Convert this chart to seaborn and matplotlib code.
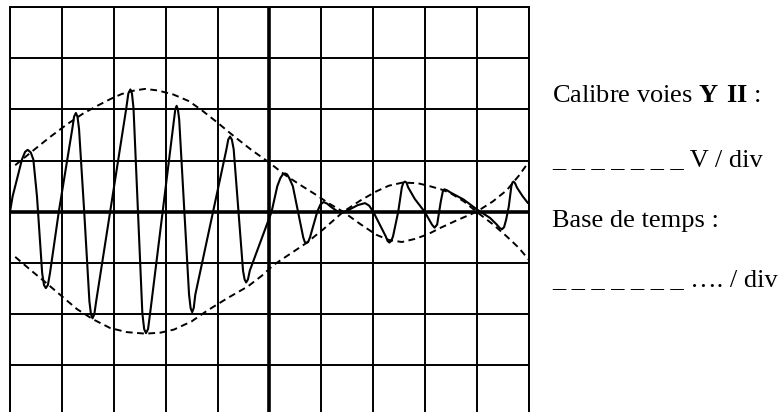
import matplotlib
matplotlib.use("Agg")
import matplotlib.pyplot as plt
import seaborn as sns

# ---- data (in screen divisions) ----
sig_x = [0.00, 0.05, 0.23, 0.29, 0.34, 0.40, 0.45, 0.52,
         0.54, 0.62, 0.655, 0.69, 0.73, 0.77, 0.94,
         1.20, 1.235, 1.27, 1.30, 1.33, 1.43,
         1.53, 1.56, 1.59, 1.625, 1.66,
         2.24, 2.28, 2.32, 2.35, 2.38,
         2.55, 2.585, 2.62, 2.66, 2.70,
         3.16, 3.185, 3.21, 3.235, 3.26,
         3.45, 3.48, 3.51, 3.54, 3.57,
         4.17, 4.205, 4.24, 4.275, 4.31,
         4.49, 4.52, 4.55, 4.585, 4.62,
         5.04, 5.15, 5.21, 5.255, 5.30, 5.34, 5.38, 5.45, 5.55,
         5.65, 5.68, 5.71, 5.745, 5.78, 5.92,
         5.98, 6.04, 6.11, 6.18, 6.32,
         6.42, 6.55, 6.70, 6.84, 6.92, 7.00,
         7.24, 7.275, 7.31, 7.345, 7.38, 7.48,
         7.55, 7.58, 7.61, 7.64, 7.67, 7.80, 7.99,
         8.13, 8.18, 8.23, 8.30, 8.34, 8.37, 8.42, 8.50, 8.74, 8.99,
         9.25, 9.37, 9.44, 9.48, 9.52, 9.56, 9.61, 9.66, 9.68, 9.70,
         9.73, 9.77, 9.88, 9.98]
sig_y = [0.00, 0.30, 1.02, 1.17, 1.21, 1.16, 1.02, 0.30,
         0.00, -1.20, -1.43, -1.49, -1.43, -1.20, 0.00,
         1.62, 1.86, 1.93, 1.86, 1.62, 0.00,
         -1.75, -2.00, -2.08, -2.00, -1.75,
         2.02, 2.31, 2.39, 2.31, 2.02,
         -1.98, -2.29, -2.37, -2.29, -1.98,
         1.80, 2.00, 2.07, 2.00, 1.80,
         -1.62, -1.88, -1.96, -1.88, -1.62,
         1.22, 1.41, 1.47, 1.41, 1.22,
         -1.15, -1.32, -1.38, -1.32, -1.15,
         0.00, 0.50, 0.66, 0.73, 0.75, 0.73, 0.66, 0.50, 0.00,
         -0.50, -0.59, -0.61, -0.59, -0.50, 0.00,
         0.14, 0.19, 0.16, 0.10, 0.00,
         -0.01, 0.05, 0.13, 0.17, 0.12, 0.00,
         -0.48, -0.57, -0.60, -0.57, -0.48, 0.00,
         0.48, 0.57, 0.59, 0.57, 0.48, 0.25, 0.00,
         -0.25, -0.31, -0.25, 0.20, 0.40, 0.44, 0.42, 0.37, 0.24, 0.05,
         -0.12, -0.24, -0.32, -0.34, -0.30, -0.15, 0.10, 0.50, 0.57, 0.59,
         0.56, 0.47, 0.30, 0.17]

env_up_x = [0.10, 0.45, 0.77, 1.10, 1.41, 1.70, 1.93, 2.15, 2.40, 2.60, 2.85,
            3.15, 3.45, 3.70, 4.00, 4.31, 4.65, 4.97, 5.30, 5.60, 5.90, 6.15,
            6.42, 6.75, 7.06, 7.30, 7.55, 7.80, 8.05, 8.28, 8.60, 8.99, 9.30,
            9.57, 9.80, 10.00]
env_up_y = [0.91, 1.20, 1.46, 1.71, 1.92, 2.08, 2.20, 2.30, 2.37, 2.40, 2.37,
            2.29, 2.16, 1.98, 1.74, 1.48, 1.21, 0.98, 0.72, 0.52, 0.33, 0.16,
            0.00, -0.24, -0.45, -0.55, -0.59, -0.53, -0.44, -0.32, -0.17, 0.00, 0.20,
            0.42, 0.70, 0.98]

env_lo_x = [0.10, 0.40, 0.71, 1.00, 1.29, 1.60, 1.93, 2.25, 2.61, 2.90, 3.16,
            3.50, 3.80, 4.20, 4.58, 4.85, 5.09, 5.40, 5.71, 6.05, 6.42, 6.75,
            7.06, 7.30, 7.56, 7.85, 8.09, 8.30, 8.48, 8.75, 8.99, 9.30, 9.57,
            9.80, 10.00]
env_lo_y = [-0.88, -1.14, -1.40, -1.65, -1.90, -2.10, -2.27, -2.35, -2.38, -2.36, -2.30,
            -2.14, -1.93, -1.68, -1.46, -1.25, -1.03, -0.82, -0.61, -0.33, 0.00, 0.22,
            0.40, 0.51, 0.57, 0.56, 0.50, 0.44, 0.37, 0.20, 0.00, -0.24, -0.48,
            -0.70, -0.94]

x_divs = list(range(0, 11))
y_divs = list(range(-3, 5))

line1 = "Calibre voies $\\mathbf{Y\\ II}$ :"
line2 = "_ _ _ _ _ _ _ V / div"
line3 = "Base de temps :"
line4 = "_ _ _ _ _ _ _ \u2026. / div"

# ---- style ----
sns.set_style("white")
plt.rcParams["font.family"] = ["Liberation Serif", "DejaVu Serif"]
plt.rcParams["mathtext.fontset"] = "custom"
plt.rcParams["mathtext.rm"] = "Liberation Serif"
plt.rcParams["mathtext.bf"] = "Liberation Serif:bold"

W, H = 780, 412
fig = plt.figure(figsize=(W / 100, H / 100), dpi=100)
ax = fig.add_axes([10 / W, 0, 519 / W, (H - 7) / H])

dash = (0, (3.5, 2.3))
sns.lineplot(x=env_up_x, y=env_up_y, ax=ax, color="black", lw=1.4,
             linestyle=dash, sort=False, estimator=None)
sns.lineplot(x=env_lo_x, y=env_lo_y, ax=ax, color="black", lw=1.4,
             linestyle=dash, sort=False, estimator=None)
sns.lineplot(x=sig_x, y=sig_y, ax=ax, color="black", lw=1.5,
             sort=False, estimator=None)

ax.set_xlim(0, 10)
ax.set_ylim(-3.91, 4)
ax.set_xticks(x_divs)
ax.set_yticks(y_divs)
ax.grid(True, color="black", lw=1.4)
ax.set_axisbelow(True)
ax.axhline(0, color="black", lw=2.6, zorder=1.5)
ax.axvline(5, color="black", lw=2.6, zorder=1.5)
ax.tick_params(length=0, labelbottom=False, labelleft=False)
ax.set_xlabel("")
ax.set_ylabel("")
for side in ["left", "right", "top"]:
    ax.spines[side].set_visible(True)
    ax.spines[side].set_color("black")
    ax.spines[side].set_linewidth(1.4)
ax.spines["bottom"].set_visible(False)

fs = 19
tx = 552 / W
for txt, yb in [(line1, 102), (line2, 166), (line3, 227), (line4, 286)]:
    fig.text(tx, 1 - yb / H, txt, fontsize=fs, ha="left", va="baseline",
             color="black")

fig.savefig("out.png", dpi=100)
